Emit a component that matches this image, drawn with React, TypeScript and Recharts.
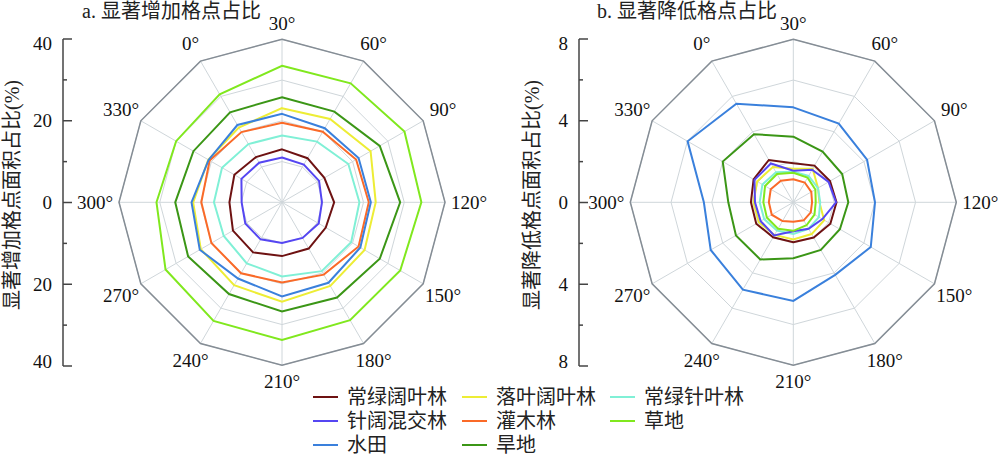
import React from 'react';
import {
  RadarChart,
  PolarGrid,
  PolarAngleAxis,
  PolarRadiusAxis,
  Radar,
  ComposedChart,
  XAxis,
  YAxis,
} from 'recharts';

// ---------- data ----------
const directions = ['30°', '60°', '90°', '120°', '150°', '180°', '210°', '240°', '270°', '300°', '330°', '0°'];

const seriesNames = ['常绿阔叶林', '落叶阔叶林', '常绿针叶林', '针阔混交林', '灌木林', '草地', '水田', '旱地'];
const seriesColors = ['#6e1212', '#eded35', '#80f0d6', '#5546f2', '#fa6a28', '#80e81e', '#3a80dc', '#3b9616'];

// a. 显著增加格点占比 (%)
const incEvergreenBroad = [13.0, 12.5, 12.0, 12.8, 12.4, 13.1, 13.2, 14.2, 13.9, 12.9, 13.5, 12.8];
const incDeciduousBroad = [23.1, 23.6, 25.1, 23.0, 23.4, 23.7, 24.4, 23.5, 23.0, 21.8, 20.9, 21.2];
const incEvergreenNeedle = [16.4, 17.2, 18.8, 19.0, 19.6, 19.5, 18.2, 17.3, 16.5, 16.7, 17.0, 16.5];
const incMixed = [11.0, 10.7, 10.5, 9.8, 10.4, 10.1, 10.0, 10.5, 10.4, 9.9, 11.5, 11.2];
const incShrub = [19.5, 20.0, 21.0, 21.3, 21.7, 20.5, 19.7, 20.1, 20.0, 19.8, 20.5, 19.9];
const incGrass = [33.5, 33.7, 34.7, 34.2, 33.5, 33.4, 33.8, 33.6, 33.0, 30.8, 30.0, 30.6];
const incPaddy = [21.7, 21.0, 21.7, 21.8, 22.2, 22.8, 23.1, 21.6, 23.3, 22.2, 20.8, 21.9];
const incDryland = [25.8, 25.7, 27.7, 29.0, 27.7, 27.0, 26.8, 26.0, 26.6, 26.2, 25.1, 25.5];

// b. 显著降低格点占比 (%)
const decEvergreenBroad = [1.92, 2.08, 2.08, 2.12, 2.1, 2.0, 1.96, 1.98, 2.1, 2.08, 2.25, 2.4];
const decDeciduousBroad = [1.65, 1.9, 1.4, 1.28, 1.75, 1.8, 1.82, 1.85, 1.95, 1.95, 2.05, 2.0];
const decEvergreenNeedle = [1.5, 1.5, 1.4, 1.32, 1.45, 1.5, 1.55, 1.6, 1.65, 1.65, 1.75, 1.7];
const decMixed = [1.55, 1.85, 2.0, 2.1, 1.65, 1.5, 1.42, 1.88, 1.85, 1.88, 2.2, 2.2];
const decShrub = [1.13, 1.12, 1.02, 0.92, 0.99, 1.02, 0.95, 1.06, 1.22, 1.2, 1.28, 1.22];
const decGrass = [1.45, 1.4, 1.25, 1.1, 1.2, 1.3, 1.4, 1.5, 1.5, 1.47, 1.6, 1.6];
const decPaddy = [4.66, 4.46, 4.18, 4.01, 4.39, 4.11, 4.84, 4.95, 4.68, 4.39, 5.99, 5.59];
const decDryland = [3.22, 2.87, 2.77, 2.7, 2.64, 2.7, 2.75, 3.24, 3.25, 3.19, 4.0, 3.86];

const incSeries = [incEvergreenBroad, incDeciduousBroad, incEvergreenNeedle, incMixed, incShrub, incGrass, incPaddy, incDryland];
const decSeries = [decEvergreenBroad, decDeciduousBroad, decEvergreenNeedle, decMixed, decShrub, decGrass, decPaddy, decDryland];

const incRadiusTicks = [0, 10, 20, 30, 40];
const decRadiusTicks = [0, 2, 4, 6, 8];
const incSideTicks = [-40, -30, -20, -10, 0, 10, 20, 30, 40];
const decSideTicks = [-8, -6, -4, -2, 0, 2, 4, 6, 8];

const titleA = 'a. 显著增加格点占比';
const titleB = 'b. 显著降低格点占比';
const yTitleA = '显著增加格点面积占比(%)';
const yTitleB = '显著降低格点面积占比(%)';

// ---------- style ----------
const FONT = '"Liberation Serif", "Times New Roman", "Noto Sans CJK SC", serif';
const CJK = '"Liberation Serif", "Noto Sans CJK SC", sans-serif';
const H = 457;
const CY = 202.3;
const R = 163;

const buildData = (series: number[][]) =>
  directions.map((d, i) => {
    const row: Record<string, any> = { dir: d };
    series.forEach((s, k) => {
      row['s' + k] = s[i];
    });
    return row;
  });

const makeAngleTick = (cx: number) => (props: any) => {
  const ang = (props.payload.coordinate * Math.PI) / 180;
  const c = Math.cos(ang);
  const s = Math.sin(ang);
  const r = R + 16 + 8 * Math.abs(c);
  return (
    <text
      x={cx + r * c}
      y={CY - r * s}
      textAnchor="middle"
      dominantBaseline="central"
      fontSize={19}
      fontFamily={FONT}
      fill="#111"
    >
      {props.payload.value}
    </text>
  );
};

function Polar({ left, cx, series, max, ticks }: { left: number; cx: number; series: number[][]; max: number; ticks: number[] }) {
  const data = buildData(series);
  return (
    <div style={{ position: 'absolute', left, top: 0 }}>
      <RadarChart
        width={500}
        height={H}
        data={data}
        cx={cx}
        cy={CY}
        outerRadius={R}
        startAngle={90}
        endAngle={-270}
        margin={{ top: 0, right: 0, bottom: 0, left: 0 }}
      >
        <PolarGrid gridType="polygon" stroke="#cfd6da" strokeWidth={1} />
        <PolarRadiusAxis
          type="number"
          domain={[0, max]}
          ticks={ticks}
          tickCount={ticks.length}
          angle={90}
          tick={false}
          tickLine={false}
          axisLine={false}
        />
        <PolarAngleAxis
          dataKey="dir"
          axisLineType="polygon"
          axisLine={{ stroke: '#858d95', strokeWidth: 1.5 }}
          tickLine={false}
          tick={makeAngleTick(cx)}
        />
        {seriesNames.map((n, k) => (
          <Radar
            key={n}
            name={n}
            dataKey={'s' + k}
            stroke={seriesColors[k]}
            strokeWidth={2}
            fill="none"
            fillOpacity={0}
            dot={false}
            isAnimationActive={false}
          />
        ))}
      </RadarChart>
    </div>
  );
}

const makeSideTick = (max: number) => (props: any) => {
  const { x, y, payload } = props;
  const v = payload.value as number;
  const major = v % (max / 2) === 0;
  let ty = y;
  if (v === max) ty = y + 4;
  if (v === -max) ty = y - 5;
  return (
    <g>
      <line x1={x} x2={x + (major ? 9 : 4)} y1={y} y2={y} stroke="#444" strokeWidth={1.5} />
      {major && (
        <text x={x - 11} y={ty} textAnchor="end" dominantBaseline="central" fontSize={19} fontFamily={FONT} fill="#111">
          {Math.abs(v)}
        </text>
      )}
    </g>
  );
};

function SideAxis({ left, axisWidth, max, ticks }: { left: number; axisWidth: number; max: number; ticks: number[] }) {
  const data = ticks.map((t) => ({ t }));
  return (
    <div style={{ position: 'absolute', left, top: 0 }}>
      <ComposedChart width={axisWidth + 20} height={H} data={data} margin={{ top: 39, right: 0, bottom: 91, left: 0 }}>
        <XAxis dataKey="t" hide />
        <YAxis
          type="number"
          domain={[-max, max]}
          ticks={ticks}
          interval={0}
          width={axisWidth}
          tickSize={0}
          tickMargin={0}
          tickLine={false}
          axisLine={{ stroke: '#444', strokeWidth: 1.5 }}
          tick={makeSideTick(max)}
          allowDataOverflow
        />
      </ComposedChart>
    </div>
  );
}

const legendCols = [313, 462, 610];
const legendRows = [397, 421, 445];

function Overlay() {
  return (
    <svg width={1000} height={H} style={{ position: 'absolute', left: 0, top: 0, pointerEvents: 'none' }}>
      <text x={82} y={11} fontSize={20} fontFamily={CJK} fill="#222" dominantBaseline="central">
        {titleA}
      </text>
      <text x={597} y={11} fontSize={20} fontFamily={CJK} fill="#222" dominantBaseline="central">
        {titleB}
      </text>
      <text
        x={12}
        y={195}
        transform="rotate(-90 12 195)"
        textAnchor="middle"
        dominantBaseline="central"
        fontSize={20}
        fontFamily={CJK}
        fill="#222"
      >
        {yTitleA}
      </text>
      <text
        x={532}
        y={195}
        transform="rotate(-90 532 195)"
        textAnchor="middle"
        dominantBaseline="central"
        fontSize={20}
        fontFamily={CJK}
        fill="#222"
      >
        {yTitleB}
      </text>
      {seriesNames.map((n, k) => {
        const x = legendCols[k % 3];
        const y = legendRows[Math.floor(k / 3)];
        return (
          <g key={n}>
            <line x1={x} x2={x + 25} y1={y} y2={y} stroke={seriesColors[k]} strokeWidth={2} />
            <text x={x + 34} y={y} fontSize={20} fontFamily={CJK} fill="#222" dominantBaseline="central">
              {n}
            </text>
          </g>
        );
      })}
    </svg>
  );
}

export default function App() {
  return (
    <div style={{ position: 'absolute', left: 0, top: 0, width: 1000, height: H, background: '#fff', overflow: 'hidden' }}>
      <SideAxis left={0} axisWidth={63} max={40} ticks={incSideTicks} />
      <SideAxis left={500} axisWidth={79} max={8} ticks={decSideTicks} />
      <Polar left={0} cx={282} series={incSeries} max={40} ticks={incRadiusTicks} />
      <Polar left={500} cx={293.3} series={decSeries} max={8} ticks={decRadiusTicks} />
      <Overlay />
    </div>
  );
}
